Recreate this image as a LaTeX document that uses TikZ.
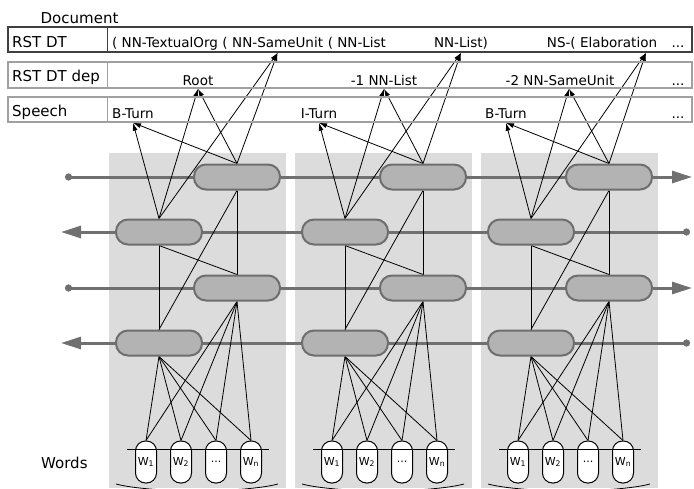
\documentclass[tikz,border=0pt]{standalone}
\usepackage{fontspec}
\setmainfont{DejaVu Sans}
\usetikzlibrary{arrows.meta}
\definecolor{colgray}{RGB}{220,220,220}
\definecolor{cellfill}{RGB}{179,179,179}
\definecolor{celledge}{RGB}{110,110,110}
\definecolor{flowgray}{RGB}{112,112,112}
\definecolor{rowdark}{RGB}{64,64,64}
\definecolor{rowlight}{RGB}{160,160,160}
\newcommand{\worddots}{...}
\pgfdeclarelayer{back}
\pgfsetlayers{back,main}

\begin{document}
\begin{tikzpicture}[x=1pt,y=-1pt,
  rowbox/.style={draw=#1, line width=1.5pt, minimum width=684pt, minimum height=25pt, inner sep=0pt},
  rowlbl/.style={font=\fontsize{15}{18}\selectfont, anchor=base west, inner sep=0pt},
  tag/.style={font=\fontsize{13.5}{16}\selectfont, anchor=base, inner sep=0pt},
  lstm/.style={draw=celledge, fill=cellfill, line width=2pt, rounded corners=12pt, minimum width=86pt, minimum height=25pt, inner sep=0pt},
  word/.style={draw, fill=white, line width=1pt, rounded corners=10pt, minimum width=21pt, minimum height=42pt, inner sep=0pt, font=\fontsize{11}{13}\selectfont},
  flow/.style={draw=flowgray, line width=3pt},
  link/.style={line width=0.8pt},
  up/.style={link, -{Latex[length=8pt,width=5pt]}}]
\useasboundingbox (0,0) rectangle (694,488);

% label rows
\node[rowbox=rowdark] (dt) at (350,39.5) {};
\node[rowbox=rowlight, minimum height=26pt] (dep) at (350,75) {};
\node[rowbox=rowlight] (sp) at (350,109.5) {};
\foreach \r/\c in {dt/rowdark,dep/rowlight,sp/rowlight}
  \draw[\c, line width=1.5pt] ([xshift=100pt]\r.north west) -- ([xshift=100pt]\r.south west);

\node[rowlbl] (doclbl) at (40.5,23) {Document};
\node[rowlbl] (dtlbl) at (12,47) {RST DT};
\node[rowlbl] (deplbl) at (12,81) {RST DT dep};
\node[rowlbl] (splbl) at (12,116) {Speech};
\node[rowlbl] (wordlbl) at (41,468) {Words};

% tree tags
\node[tag, anchor=base west] (dtA) at (112,47) {( NN-TextualOrg (};
\node[tag, anchor=base west] (dtB) at ([xshift=4.3pt]dtA.base east) {NN-SameUnit};
\node[tag, anchor=base west] (dtC) at ([xshift=4.3pt]dtB.base east) {( NN-List};
\node[tag] (dtD) at (461,47) {NN-List)};
\node[tag] (dtE) at (602,47) {NS-( Elaboration};
\node[tag] (dtF) at (678,47) {\worddots};

\node[tag] (root) at (198,85) {Root};
\node[tag] (depA) at (384,85) {-1 NN-List};
\node[tag] (depB) at (560,85) {-2 NN-SameUnit};
\node[tag] (depC) at (678,85) {\worddots};

\node[tag] (spA) at (133,118) {B-Turn};
\node[tag] (spB) at (319,118) {I-Turn};
\node[tag] (spC) at (506,118) {B-Turn};
\node[tag] (spD) at (678,118) {\worddots};

% arrow targets on the row edges
\coordinate (ta1) at (spA.south |- sp.south);
\coordinate (ta2) at (root.south |- dep.south);
\coordinate (ta3) at (dtB.south |- dt.south);
\coordinate (tb1) at (spB.south |- sp.south);
\coordinate (tb2) at (depA.south |- dep.south);
\coordinate (tb3) at (dtD.south |- dt.south);
\coordinate (tc1) at (spC.south |- sp.south);
\coordinate (tc2) at ([xshift=9pt]depB.south |- dep.south);
\coordinate (tc3) at ([xshift=44pt]dtE.south |- dt.south);

% columns and the two directions
\begin{pgfonlayer}{back}
\foreach \c in {0,1,2}
  \fill[colgray] (109+186*\c,153) rectangle ++(177,335);
\coordinate (f1s) at (65,177);  \coordinate (f1e) at (692,177);
\coordinate (b1s) at (690,232); \coordinate (b1e) at (61,232);
\coordinate (f2s) at (65,288);  \coordinate (f2e) at (692,288);
\coordinate (b2s) at (690,343); \coordinate (b2e) at (61,343);
\foreach \l in {f1,b1,f2,b2}
  \draw[flow, {Circle[length=7pt]}-{Triangle[length=20pt,width=12pt]}] (\l s) -- (\l e);
\end{pgfonlayer}

\foreach \c/\n in {0/a,1/b,2/c}{
  \node[lstm] (f1\n) at (237+186*\c,177) {};
  \node[lstm] (b1\n) at (159+186*\c,232) {};
  \node[lstm] (f2\n) at (237+186*\c,288) {};
  \node[lstm] (b2\n) at (159+186*\c,343) {};
  \foreach \i/\w in {1/W\textsubscript{1},2/W\textsubscript{2},3/\worddots,4/W\textsubscript{n}}
    \node[word] (w\n\i) at (146+186*\c+35*\i-35,462) {\w};
  \draw[link] (127+186*\c,449) -- ++(142,0);
  \draw[link] (116+186*\c,484) .. controls (150+186*\c,493) and (244+186*\c,493) .. (278+186*\c,484);
  \begin{pgfonlayer}{back}
  \foreach \t in {1,2,3}{
    \draw[up] (f1\n.north) -- (t\n\t);
    \draw[up] (b1\n.north) -- (t\n\t);
  }
  \draw[link] (f1\n.south) -- (f2\n.north);
  \draw[link] (f1\n.south) -- (b2\n.north);
  \draw[link] (b1\n.south) -- (f2\n.north);
  \draw[link] (b1\n.south) -- (b2\n.north);
  \foreach \i in {1,...,4}{
    \draw[link] (f2\n.south) -- (w\n\i.north);
    \draw[link] (b2\n.south) -- (w\n\i.north);
  }
  \end{pgfonlayer}
}
\end{tikzpicture}
\end{document}
